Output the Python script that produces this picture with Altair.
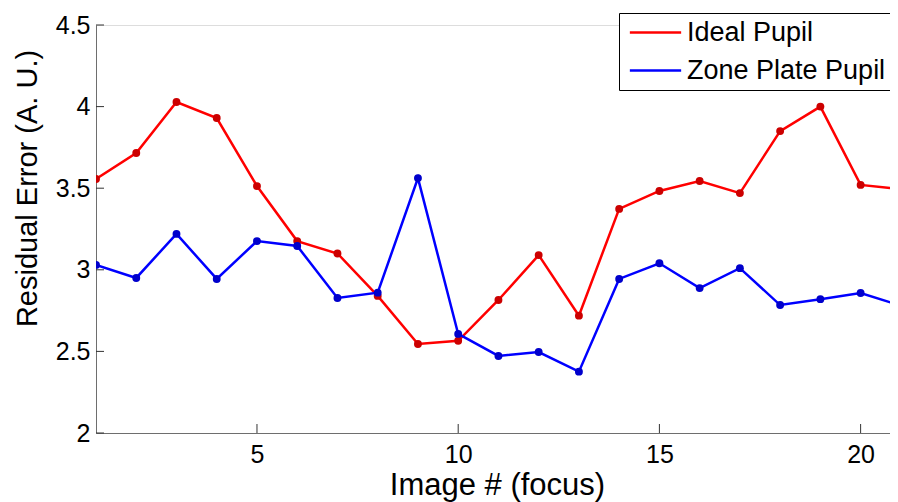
import altair as alt
import pandas as pd

image_idx = list(range(1, 22))
ideal_pupil = [3.556, 3.716, 4.028, 3.930, 3.513, 3.176, 3.100, 2.840, 2.545, 2.565,
               2.815, 3.090, 2.719, 3.373, 3.483, 3.544, 3.470, 3.850, 4.000, 3.520, 3.495]
zone_plate = [3.030, 2.950, 3.220, 2.944, 3.176, 3.146, 2.827, 2.860, 3.562, 2.607,
              2.472, 2.496, 2.376, 2.944, 3.040, 2.888, 3.010, 2.784, 2.820, 2.858, 2.780]
series_names = ["Ideal Pupil", "Zone Plate Pupil"]
line_colors = ["#ff0000", "#0000ff"]
dot_colors = ["#cc0000", "#0000cc"]
y_ticks = [2.0, 2.5, 3.0, 3.5, 4.0, 4.5]
x_ticks = [5, 10, 15, 20]

rows = []
for i, v in zip(image_idx, ideal_pupil):
    rows.append({"x": i, "y": v, "s": series_names[0]})
for i, v in zip(image_idx, zone_plate):
    rows.append({"x": i, "y": v, "s": series_names[1]})
df = pd.DataFrame(rows)

FONT = "Liberation Sans, Arial, sans-serif"
W, H = 794, 408

xs = alt.Scale(domain=[1, 20.73], nice=False, zero=False)
ys = alt.Scale(domain=[2, 4.5], nice=False, zero=False)

x_enc = alt.X("x:Q", scale=xs, title="Image # (focus)",
              axis=alt.Axis(values=x_ticks, tickSize=0, labelPadding=29,
                            labelBaseline="alphabetic", grid=False,
                            domainColor="#6e6e6e", labelFontSize=25, titleFontSize=31,
                            labelColor="black", titleColor="black",
                            titleFontWeight="normal", labelFont=FONT, titleFont=FONT,
                            titleX=401, titleY=61, titleBaseline="alphabetic",
                            titleAlign="center"))
y_enc = alt.Y("y:Q", scale=ys, title="Residual Error (A. U.)",
              axis=alt.Axis(values=y_ticks, tickSize=0, labelPadding=6, grid=False,
                            domainColor="#6e6e6e", labelFontSize=25, titleFontSize=29,
                            labelColor="black", titleColor="black",
                            titleFontWeight="normal", labelFont=FONT, titleFont=FONT,
                            titleX=-69, titleY=163, titleAngle=270,
                            titleAlign="center", titleBaseline="middle",
                            labelExpr="datum.value == 2 || datum.value == 3 || datum.value == 4 ? format(datum.value, 'd') : format(datum.value, '.1f')"))

base = alt.Chart(df)

lines = base.mark_line(strokeWidth=2.5, clip=True).encode(
    x=x_enc, y=y_enc,
    color=alt.Color("s:N", scale=alt.Scale(domain=series_names, range=line_colors),
                    legend=alt.Legend(title=None, orient="none", legendX=523, legendY=-12,
                                      symbolType="M-2.7,0H2.7", symbolSize=361,
                                      symbolStrokeWidth=2.5, symbolOffset=17,
                                      labelFontSize=27,
                                      labelFont=FONT, labelColor="black",
                                      labelOffset=18, rowPadding=10, padding=6,
                                      strokeColor="black", fillColor="white",
                                      cornerRadius=0, labelLimit=400)),
)
points = base.mark_circle(size=62, opacity=1, clip=True).encode(
    x="x:Q", y="y:Q",
    fill=alt.Fill("s:N", scale=alt.Scale(domain=series_names, range=dot_colors), legend=None),
)

ytick_df = pd.DataFrame({"t": y_ticks})
xtick_df = pd.DataFrame({"t": x_ticks})
yt = alt.Chart(ytick_df).mark_rule(color="#333333", strokeWidth=1).encode(
    y=alt.Y("t:Q", scale=ys), x=alt.value(0), x2=alt.value(8))
xt = alt.Chart(xtick_df).mark_rule(color="#333333", strokeWidth=1).encode(
    x=alt.X("t:Q", scale=xs), y=alt.value(H), y2=alt.value(H - 9))

chart = alt.layer(lines, points, yt, xt).properties(
    width=W, height=H,
    autosize=alt.AutoSizeParams(type="none"),
    padding={"left": 88, "top": 17, "right": 0, "bottom": 69},
).configure_view(stroke=None).configure(background="white")

chart.save("out.html", embed_options={"renderer": "svg", "actions": False})
